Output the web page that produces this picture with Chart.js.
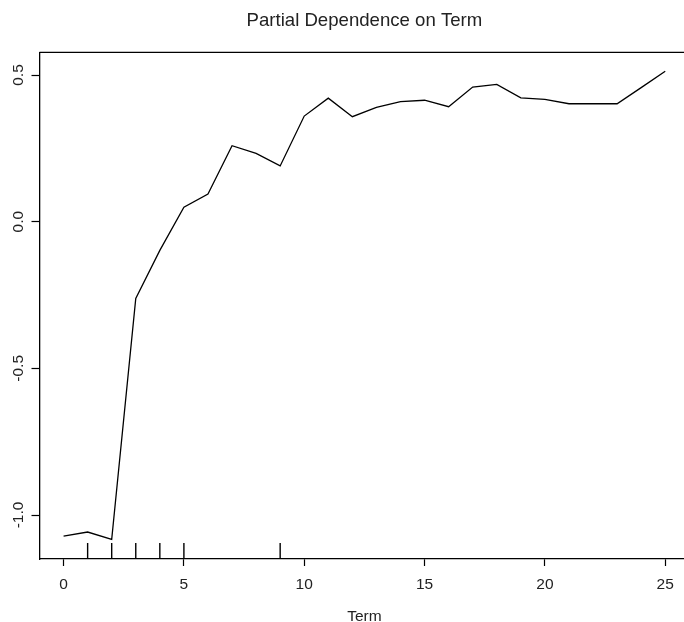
<!DOCTYPE html>
<html>
<head>
<meta charset="utf-8">
<script src="https://cdn.jsdelivr.net/npm/chart.js@4/dist/chart.umd.min.js"></script>
<style>
  html, body { margin: 0; padding: 0; background: #fff; }
  canvas { display: block; }
</style>
</head>
<body>
<canvas id="c" width="684" height="622"></canvas>
<script>
// ---- Data ----
const termValues = [0, 1, 2, 3, 4, 5, 6, 7, 8, 9, 10, 11, 12, 13, 14, 15, 16, 17, 18, 19, 20, 21, 22, 23, 24, 25];
const partialDependence = [-1.072, -1.058, -1.083, -0.262, -0.098, 0.049, 0.094, 0.259, 0.233, 0.190,
  0.360, 0.421, 0.358, 0.390, 0.409, 0.414, 0.392, 0.459, 0.468, 0.422,
  0.417, 0.402, 0.402, 0.402, 0.457, 0.513];
const rugValues = [1, 2, 2, 3, 4, 5, 9];
const xTickValues = [0, 5, 10, 15, 20, 25];
const yTickValues = [-1.0, -0.5, 0.0, 0.5];
const yTickLabels = ["-1.0", "-0.5", "0.0", "0.5"];
const chartTitle = "Partial Dependence on Term";
const xAxisTitle = "Term";

const FONT = '"Liberation Sans", Arial, Helvetica, sans-serif';
const TEXT = '#222';

const rStyle = {
  id: 'rStyle',
  afterDraw(chart) {
    const { ctx, chartArea: a, scales: { x, y } } = chart;
    ctx.save();
    ctx.strokeStyle = '#000';
    ctx.lineWidth = 1.3;
    // top border of box
    ctx.beginPath();
    ctx.moveTo(a.left, a.top);
    ctx.lineTo(a.right, a.top);
    ctx.stroke();
    // rug
    ctx.lineWidth = 1.4;
    ctx.beginPath();
    rugValues.forEach(v => {
      const px = x.getPixelForValue(v);
      ctx.moveTo(px, a.bottom);
      ctx.lineTo(px, a.bottom - 16);
    });
    ctx.stroke();
    // y tick labels (rotated)
    ctx.fillStyle = TEXT;
    ctx.font = '15.5px ' + FONT;
    yTickValues.forEach((v, i) => {
      const py = y.getPixelForValue(v);
      ctx.save();
      ctx.translate(23.3, py);
      ctx.rotate(-Math.PI / 2);
      ctx.textAlign = 'center';
      ctx.textBaseline = 'alphabetic';
      ctx.fillText(yTickLabels[i], 0, 0);
      ctx.restore();
    });
    // titles centred on full plot region
    const cx = (x.getPixelForValue(-1) + x.getPixelForValue(26)) / 2;
    ctx.textAlign = 'center';
    ctx.textBaseline = 'alphabetic';
    ctx.font = '18.6px ' + FONT;
    ctx.fillText(chartTitle, cx, 26);
    ctx.font = '15.5px ' + FONT;
    ctx.fillText(xAxisTitle, cx, 621);
    ctx.restore();
  }
};

new Chart(document.getElementById('c'), {
  type: 'line',
  data: {
    datasets: [{
      data: termValues.map((t, i) => ({ x: t, y: partialDependence[i] })),
      borderColor: '#000',
      borderWidth: 1.3,
      pointRadius: 0,
      tension: 0,
      fill: false
    }]
  },
  options: {
    responsive: false,
    animation: false,
    layout: { padding: { top: 52.3, left: 0, right: 0, bottom: 0 } },
    plugins: { legend: { display: false }, title: { display: false }, tooltip: { enabled: false } },
    scales: {
      x: {
        type: 'linear',
        min: -1,
        max: 25.78,
        afterBuildTicks: s => { s.ticks = xTickValues.map(v => ({ value: v })); },
        afterFit: s => { s.height = 63; },
        grid: { drawOnChartArea: false, tickLength: 7, tickColor: '#000', tickWidth: 1.2 },
        border: { display: true, color: '#000', width: 1.3 },
        ticks: { color: TEXT, font: { family: FONT, size: 15.5 }, padding: 9, maxRotation: 0, autoSkip: false }
      },
      y: {
        type: 'linear',
        min: -1.15,
        max: 0.5774,
        afterBuildTicks: s => { s.ticks = yTickValues.map(v => ({ value: v })); },
        afterFit: s => { s.width = 39.5; },
        grid: { drawOnChartArea: false, tickLength: 8, tickColor: '#000', tickWidth: 1.2 },
        border: { display: true, color: '#000', width: 1.3 },
        ticks: { display: false }
      }
    }
  },
  plugins: [rStyle]
});
</script>
</body>
</html>
